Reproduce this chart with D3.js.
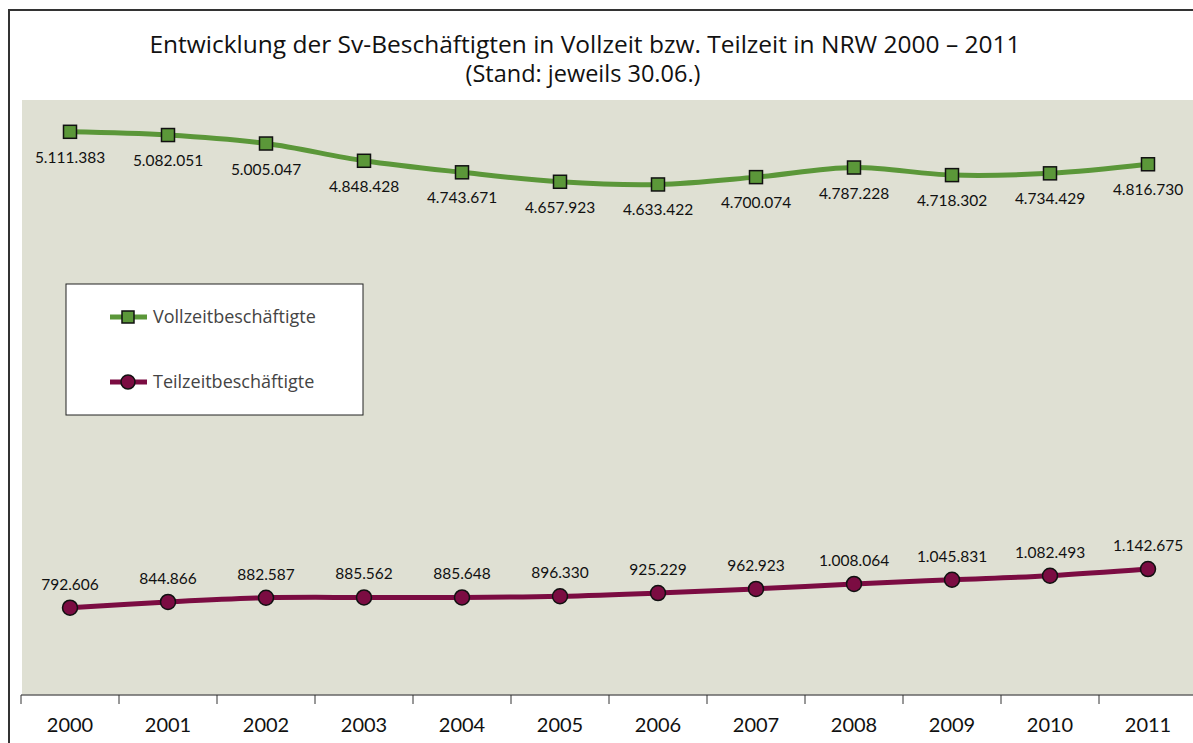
<!DOCTYPE html>
<html>
<head>
<meta charset="utf-8">
<script src="https://cdn.jsdelivr.net/npm/d3@7"></script>
<style>
	body { margin: 0; background: #fff; }
	svg { display: block; }
	text { font-family: Lato, "Open Sans", sans-serif; }
</style>
</head>
<body>
<svg></svg>
<script>

// data
var years = ['2000','2001','2002','2003','2004','2005','2006','2007','2008','2009','2010','2011']
var vollzeit = [5111383, 5082051, 5005047, 4848428, 4743671, 4657923, 4633422, 4700074, 4787228, 4718302, 4734429, 4816730]
var teilzeit = [792606, 844866, 882587, 885562, 885648, 896330, 925229, 962923, 1008064, 1045831, 1082493, 1142675]
var seriesNames = ['Vollzeitbeschäftigte', 'Teilzeitbeschäftigte']

var width = 1193
var height = 743

var green = '#5b9739'
var maroon = '#7b0c42'

var svg = d3.select('svg')
	.attr('width', width)
	.attr('height', height)

var de = d3.formatLocale({ decimal: ',', thousands: '.', grouping: [3], currency: ['', ' €'] })
var fmt = de.format(',d')

// frame
svg.append('rect')
	.attr('x', 9).attr('y', 10)
	.attr('width', width + 20).attr('height', height + 20)
	.attr('fill', '#fff')
	.attr('stroke', '#333')
	.attr('stroke-width', 2)

// title
svg.append('text')
	.attr('x', 585).attr('y', 53)
	.attr('text-anchor', 'middle')
	.style('font-family', '"Open Sans", sans-serif')
	.style('font-size', '24.5px')
	.attr('fill', '#111')
	.text('Entwicklung der Sv-Beschäftigten in Vollzeit bzw. Teilzeit in NRW 2000 – 2011')

svg.append('text')
	.attr('x', 583).attr('y', 82)
	.attr('text-anchor', 'middle')
	.style('font-family', '"Open Sans", sans-serif')
	.style('font-size', '23.5px')
	.attr('fill', '#111')
	.text('(Stand: jeweils 30.06.)')

// scales
var x = d3.scaleBand()
	.domain(years)
	.range([21, 21 + 98 * years.length])

var y = d3.scaleLinear()
	.domain([0, 5400000])
	.range([695, 100])

// plot area
svg.append('rect')
	.attr('x', 22).attr('y', 100)
	.attr('width', width - 22).attr('height', 595)
	.attr('fill', '#dfe0d3')

// x axis
var xAxis = svg.append('g')
	.attr('transform', 'translate(0,695)')

xAxis.append('line')
	.attr('x1', 21).attr('x2', width)
	.attr('stroke', '#666').attr('stroke-width', 1.5)

xAxis.selectAll('.tick')
	.data(years)
	.enter()
	.append('line')
	.attr('x1', function(d) { return x(d) })
	.attr('x2', function(d) { return x(d) })
	.attr('y1', 0).attr('y2', 9)
	.attr('stroke', '#333')

xAxis.selectAll('.label')
	.data(years)
	.enter()
	.append('text')
	.attr('x', function(d) { return x(d) + x.bandwidth() / 2 })
	.attr('y', 37)
	.attr('text-anchor', 'middle')
	.style('font-size', '20px')
	.attr('fill', '#111')
	.text(function(d) { return d })

function cx(i) { return x(years[i]) + x.bandwidth() / 2 }

var line = d3.line()
	.x(function(d, i) { return cx(i) })
	.y(function(d) { return y(d) })
	.curve(d3.curveCatmullRom)

// lines
svg.append('path')
	.attr('d', line(vollzeit))
	.attr('fill', 'none')
	.attr('stroke', green)
	.attr('stroke-width', 5)

svg.append('path')
	.attr('d', line(teilzeit))
	.attr('fill', 'none')
	.attr('stroke', maroon)
	.attr('stroke-width', 5)

// markers
svg.selectAll('.sq')
	.data(vollzeit)
	.enter()
	.append('rect')
	.attr('x', function(d, i) { return cx(i) - 6.5 })
	.attr('y', function(d) { return y(d) - 6.5 })
	.attr('width', 13).attr('height', 13)
	.attr('fill', green)
	.attr('stroke', '#111')
	.attr('stroke-width', 1.5)

svg.selectAll('.dot')
	.data(teilzeit)
	.enter()
	.append('circle')
	.attr('cx', function(d, i) { return cx(i) })
	.attr('cy', function(d) { return y(d) })
	.attr('r', 7.5)
	.attr('fill', maroon)
	.attr('stroke', '#111')
	.attr('stroke-width', 1.5)

// value labels
svg.selectAll('.vlab')
	.data(vollzeit)
	.enter()
	.append('text')
	.attr('x', function(d, i) { return cx(i) })
	.attr('y', function(d) { return y(d) + 31 })
	.attr('text-anchor', 'middle')
	.style('font-size', '15.5px')
	.attr('fill', '#111')
	.text(function(d) { return fmt(d) })

svg.selectAll('.tlab')
	.data(teilzeit)
	.enter()
	.append('text')
	.attr('x', function(d, i) { return cx(i) })
	.attr('y', function(d) { return y(d) - 18 })
	.attr('text-anchor', 'middle')
	.style('font-size', '15.5px')
	.attr('fill', '#111')
	.text(function(d) { return fmt(d) })

// legend
var legend = svg.append('g')

legend.append('rect')
	.attr('x', 66).attr('y', 284)
	.attr('width', 297).attr('height', 131)
	.attr('fill', '#fff')
	.attr('stroke', '#222')
	.attr('stroke-width', 1)

var legendItems = [
	{ name: seriesNames[0], color: green, shape: 'square', y: 317 },
	{ name: seriesNames[1], color: maroon, shape: 'circle', y: 382 }
]

legendItems.forEach(function(d) {
	legend.append('line')
		.attr('x1', 110).attr('x2', 147)
		.attr('y1', d.y).attr('y2', d.y)
		.attr('stroke', d.color)
		.attr('stroke-width', 5)
	if (d.shape == 'square') {
		legend.append('rect')
			.attr('x', 122).attr('y', d.y - 6)
			.attr('width', 12).attr('height', 12)
			.attr('fill', d.color)
			.attr('stroke', '#111')
			.attr('stroke-width', 1.5)
	} else {
		legend.append('circle')
			.attr('cx', 128).attr('cy', d.y)
			.attr('r', 7)
			.attr('fill', d.color)
			.attr('stroke', '#111')
			.attr('stroke-width', 1.5)
	}
	legend.append('text')
		.attr('x', 153).attr('y', d.y + 6)
		.style('font-family', '"Open Sans", sans-serif')
		.style('font-size', '18px')
		.attr('fill', '#444')
		.text(d.name)
})

</script>
</body>
</html>
